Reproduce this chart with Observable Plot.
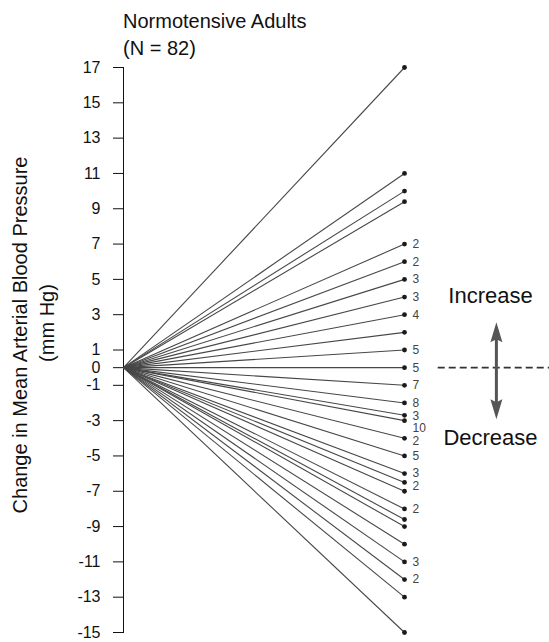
<!DOCTYPE html>
<html>
<head>
<meta charset="utf-8">
<script src="https://cdn.jsdelivr.net/npm/d3@7"></script>
<script src="https://cdn.jsdelivr.net/npm/@observablehq/plot@0.6"></script>
<style>
  html, body { margin: 0; padding: 0; background: #fff; }
  #wrap { position: relative; width: 549px; height: 642px; font-family: "Liberation Sans", Arial, Helvetica, sans-serif; }
  #title { position: absolute; left: 123px; top: 8px; font-size: 20px; line-height: 27px; color: #111; }
</style>
</head>
<body>
<div id="wrap">
  <div id="chart"></div>
  <div id="title">Normotensive Adults<br>(N = 82)</div>
</div>
<script>
// ---- Data ----
const yTicks = [17, 15, 13, 11, 9, 7, 5, 3, 1, 0, -1, -3, -5, -7, -9, -11, -13, -15];
const changeValues = [17, 11, 10, 9.4, 7, 6, 5, 4, 3, 2, 1, 0, -1, -2, -2.7, -3, -4, -5, -6, -6.5, -7, -8, -8.6, -9, -10, -11, -12, -13, -15];
const subjectCounts = [1, 1, 1, 1, 2, 2, 3, 3, 4, 1, 5, 5, 7, 8, 3, 10, 2, 5, 3, 2, 1, 2, 1, 1, 1, 3, 2, 1, 1];
const yLabelLines = ["Change in Mean Arterial Blood Pressure", "(mm Hg)"];
const legendLabels = ["Increase", "Decrease"];

// ---- Table ----
const rows = changeValues.map((v, i) => ({ before: 0, after: 1, start: 0, change: v, n: subjectCounts[i] }));

// count labels: keep them from colliding (minimum gap in scale units)
const minGap = 0.72;
const labelled = rows.filter(d => d.n > 1).sort((a, b) => b.change - a.change);
let prev = Infinity;
for (const d of labelled) {
  d.labelY = Math.min(d.change, prev - minGap);
  prev = d.labelY;
}

// ---- Annotation layout (scale units) ----
const annX = 1.327;
const arrowHead = {
  draw(ctx) { ctx.moveTo(0, -10); ctx.lineTo(6, 10); ctx.lineTo(0, 7); ctx.lineTo(-6, 10); ctx.closePath(); }
};

const font = "'Liberation Sans', Arial, Helvetica, sans-serif";

const chart = Plot.plot({
  width: 549,
  height: 642,
  marginTop: 67,
  marginBottom: 10,
  marginLeft: 123,
  marginRight: 145,
  style: { fontFamily: font, fontSize: "16px", background: "white", color: "#111", overflow: "visible" },
  x: { domain: [0, 1], axis: null },
  y: { domain: [-15, 17], ticks: yTicks, tickFormat: d => String(d), tickSize: 10, tickPadding: 13, label: null, line: true },
  marks: [
    Plot.link(rows, { x1: "before", y1: "start", x2: "after", y2: "change", stroke: "#474747", strokeWidth: 1.1 }),
    Plot.dot(rows, { x: "after", y: "change", r: 2.4, fill: "#1a1a1a" }),
    Plot.text(labelled, { x: "after", y: "labelY", text: d => String(d.n), dx: 8, textAnchor: "start", fontSize: 12, fill: "#444" }),
    // y-axis title (two lines)
    Plot.text([yLabelLines[0]], { frameAnchor: "left", textAnchor: "middle", rotate: -90, dx: -103, dy: -15, fontSize: 20, fill: "#111" }),
    Plot.text([yLabelLines[1]], { frameAnchor: "left", textAnchor: "middle", rotate: -90, dx: -76, dy: -27, fontSize: 20, fill: "#111" }),
    // Increase / Decrease annotation
    Plot.ruleY([0], { x1: 1.12, x2: 1.52, stroke: "#333", strokeWidth: 1.8, strokeDasharray: "7,4" }),
    Plot.ruleX([annX], { y1: -2.3, y2: 2.0, stroke: "#555", strokeWidth: 3 }),
    Plot.dot([2.0], { x: () => annX, y: d => d, symbol: arrowHead, r: 6, fill: "#555", stroke: "none" }),
    Plot.dot([-2.35], { x: () => annX, y: d => d, symbol: arrowHead, r: 6, fill: "#555", stroke: "none", rotate: 180 }),
    Plot.text([legendLabels[0]], { x: () => 1.306, y: () => 4.08, fontSize: 22, fill: "#111" }),
    Plot.text([legendLabels[1]], { x: () => 1.306, y: () => -3.96, fontSize: 22, fill: "#111" })
  ]
});
document.getElementById("chart").appendChild(chart);
</script>
</body>
</html>
